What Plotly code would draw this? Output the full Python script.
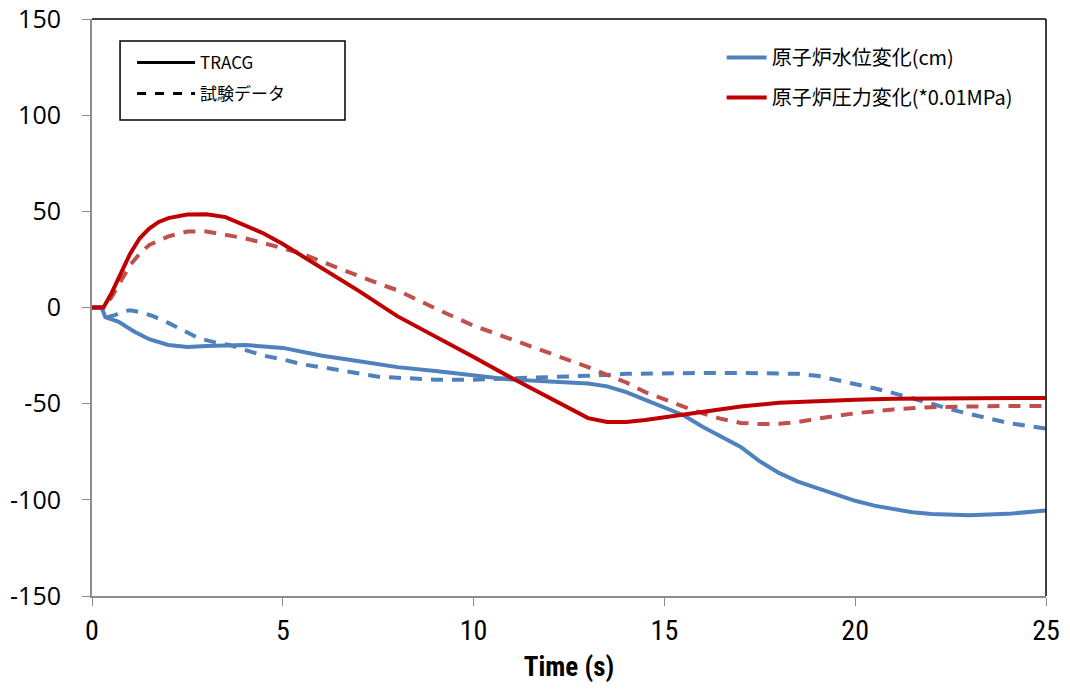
import plotly.graph_objects as go

# TRACG reactor pressure change (*0.01MPa)
t_p_calc = [0, 0.3, 0.5, 0.75, 1.0, 1.25, 1.5, 1.75, 2.0, 2.5, 3.0, 3.5, 4.0, 4.5, 5.0, 5.5, 6, 7, 8, 9, 10, 11, 12, 12.5, 13, 13.5, 14, 14.5, 15, 15.5, 16, 17, 18, 19, 20, 21, 22, 23, 24, 25]
p_calc = [0, 0, 7, 18, 28, 36, 41, 44.5, 46.5, 48.3, 48.5, 47, 43, 38.5, 33, 27, 21, 8.5, -4.5, -15, -25.7, -36.7, -47, -52.5, -57.5, -59.5, -59.5, -58.5, -57, -55.5, -54, -51.5, -49.5, -48.5, -48, -47.5, -47.3, -47.2, -47.1, -47]

# Test data reactor pressure change
t_p_test = [0, 0.3, 0.5, 0.75, 1.0, 1.25, 1.5, 2.0, 2.5, 3.0, 3.5, 4.0, 4.5, 5.0, 5.5, 6.0, 6.5, 7, 7.5, 8, 8.5, 9, 9.5, 10, 10.5, 11, 11.5, 12, 12.5, 13, 13.5, 14, 14.5, 15, 15.5, 16, 16.5, 17, 17.5, 18, 18.5, 19, 19.5, 20, 20.5, 21, 22, 23, 24, 25]
p_test = [0, 0, 5, 14, 22, 28, 32.5, 37, 39.5, 39.5, 38, 36, 33.5, 31, 28, 24, 20, 16, 12.5, 9, 4, -0.5, -5, -9.5, -13, -16.5, -20, -23.5, -27.5, -31, -35, -39, -44, -48, -51.5, -55, -58, -60, -60.6, -60.5, -59.5, -57.8, -56.3, -55, -54, -53, -51.8, -51.4, -51.2, -51.2]

# TRACG reactor water level change (cm)
t_l_calc = [0, 0.25, 0.35, 0.7, 1.1, 1.5, 2.0, 2.5, 3, 4, 5, 6, 7, 8, 9, 10, 11, 12, 13, 13.5, 14, 14.5, 15, 15.5, 16, 16.5, 17, 17.5, 18, 18.5, 19, 19.5, 20, 20.5, 21, 21.5, 22, 23, 24, 25]
l_calc = [0, 0, -5, -7.5, -12.5, -16.5, -19.5, -20.5, -20, -19.5, -21, -25, -28, -31, -33, -35.5, -37.5, -38.5, -39.5, -41, -44, -48, -52, -56, -62, -67, -72.5, -80, -86, -90.5, -94, -97, -100.5, -103, -105, -106.5, -107.4, -108, -107.3, -105.5]

# Test data reactor water level change
t_l_test = [0, 0.3, 0.4, 0.6, 0.8, 1.0, 1.3, 1.6, 2.0, 2.4, 2.8, 3.2, 3.6, 4.0, 4.5, 5.0, 5.5, 6, 6.5, 7, 7.5, 8, 9, 10, 11, 12, 13, 14, 15, 16, 17, 18, 18.5, 19, 19.5, 20, 20.5, 21, 21.5, 22, 22.5, 23, 23.5, 24, 24.5, 25]
l_test = [0, 0, -5, -4, -2, -1.5, -2.5, -4.5, -8, -12, -16, -18, -19.5, -22, -25, -27, -29.5, -31, -32.5, -34.5, -36, -36.5, -37.5, -37.5, -37, -36.5, -35.5, -34.5, -34, -34, -34, -34, -34.5, -35.5, -37.5, -39.5, -42, -44.5, -47, -50, -53, -55.5, -58, -60, -61.5, -63]

x_ticks = [0, 5, 10, 15, 20, 25]
x_labels = ["0", "5", "10", "15", "20", "25"]
y_ticks = [-150, -100, -50, 0, 50, 100, 150]
y_labels = ["-150", "-100", "-50", "0", "50", "100", "150"]

BLUE = "#4F81BD"
RED = "#C00000"
RED_T = "#C0504D"
CJK = "Noto Sans CJK JP, Noto Sans, sans-serif"
NARROW = "Liberation Sans Narrow, Roboto Condensed, Liberation Sans, sans-serif"

fig = go.Figure()

fig.add_trace(go.Scatter(x=t_l_test, y=l_test, mode="lines", showlegend=False,
                         line=dict(color=BLUE, width=4, dash="12px,9px")))
fig.add_trace(go.Scatter(x=t_p_test, y=p_test, mode="lines", showlegend=False,
                         line=dict(color=RED_T, width=4, dash="12px,9px")))
fig.add_trace(go.Scatter(x=t_l_calc, y=l_calc, mode="lines", showlegend=False,
                         line=dict(color=BLUE, width=4)))
fig.add_trace(go.Scatter(x=t_p_calc, y=p_calc, mode="lines", showlegend=False,
                         line=dict(color=RED, width=4)))

# legend 1: line styles
fig.add_trace(go.Scatter(x=[None], y=[None], mode="lines", name="TRACG", legend="legend",
                         legendgroup="a", line=dict(color="black", width=3)))
fig.add_trace(go.Scatter(x=[None], y=[None], mode="lines", name="試験データ", legend="legend",
                         legendgroup="b", line=dict(color="black", width=3, dash="dash")))
# legend 2: quantities
fig.add_trace(go.Scatter(x=[None], y=[None], mode="lines", name="原子炉水位変化(cm)", legend="legend2",
                         legendgroup="c", line=dict(color=BLUE, width=4)))
fig.add_trace(go.Scatter(x=[None], y=[None], mode="lines", name="原子炉圧力変化(*0.01MPa)", legend="legend2",
                         legendgroup="d", line=dict(color=RED, width=4)))

fig.update_layout(
    width=1070, height=689,
    margin=dict(l=92, r=24, t=19, b=93, autoexpand=False),
    paper_bgcolor="white", plot_bgcolor="white",
    legend=dict(x=0.042, y=0.955, xanchor="left", yanchor="top",
                bgcolor="rgba(0,0,0,0)",
                font=dict(family=CJK, size=17, color="black"),
                tracegroupgap=6, itemwidth=58),
    legend2=dict(x=0.66, y=0.967, xanchor="left", yanchor="top",
                 bgcolor="rgba(0,0,0,0)", tracegroupgap=11,
                 font=dict(family=CJK, size=20, color="black"), itemwidth=40),
    xaxis=dict(range=[0, 25], tickvals=x_ticks, ticktext=x_labels, showgrid=False, zeroline=False,
               automargin=False,
               showline=True, linecolor="#8c8c8c", linewidth=2,
               ticks="outside", ticklen=8, tickcolor="#8c8c8c", tickwidth=1,
               tickfont=dict(family=NARROW, size=28, color="black"),
               title=dict(text="<b>Time (s)</b>", font=dict(family=NARROW, size=27, color="black"), standoff=12)),
    yaxis=dict(range=[-150, 150], tickvals=y_ticks, ticktext=y_labels, showgrid=False, zeroline=False,
               automargin=False, ticklabelstandoff=16,
               showline=True, linecolor="#8c8c8c", linewidth=2,
               ticks="outside", ticklen=8, tickcolor="#8c8c8c", tickwidth=1,
               tickfont=dict(family="Open Sans, Noto Sans, sans-serif", size=25, color="black")),
    shapes=[
        dict(type="line", xref="paper", yref="paper", x0=0, x1=1, y0=1, y1=1,
             line=dict(color="black", width=1.5)),
        dict(type="line", xref="paper", yref="paper", x0=1, x1=1, y0=0, y1=1,
             line=dict(color="black", width=1.5)),
        # border of the line-style legend box
        dict(type="rect", xref="paper", yref="paper", x0=0.0294, x1=0.2652, y0=0.825, y1=0.962,
             line=dict(color="black", width=1.5), fillcolor="rgba(0,0,0,0)"),
    ],
)

fig.write_html("out.html", config={"displayModeBar": False},
               post_script="document.body.style.margin='0px';")
